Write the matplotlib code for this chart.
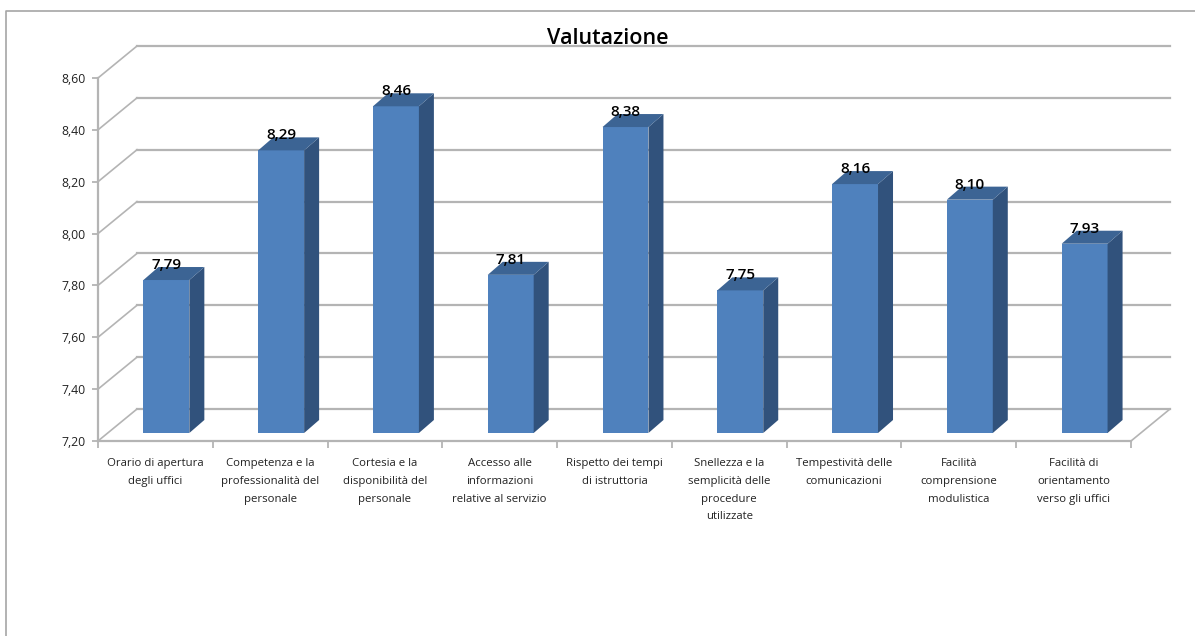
import matplotlib
matplotlib.use("Agg")
import matplotlib.pyplot as plt
from matplotlib.patches import Polygon
from matplotlib.transforms import Affine2D

categories = ["Orario di apertura\ndegli uffici",
              "Competenza e la\nprofessionalità del\npersonale",
              "Cortesia e la\ndisponibilità del\npersonale",
              "Accesso alle\ninformazioni\nrelative al servizio",
              "Rispetto dei tempi\ndi istruttoria",
              "Snellezza e la\nsemplicità delle\nprocedure\nutilizzate",
              "Tempestività delle\ncomunicazioni",
              "Facilità\ncomprensione\nmodulistica",
              "Facilità di\norientamento\nverso gli uffici"]
values = [7.79, 8.29, 8.46, 7.81, 8.38, 7.75, 8.16, 8.10, 7.93]
y_ticks = [7.2, 7.4, 7.6, 7.8, 8.0, 8.2, 8.4, 8.6]
title = "Valutazione"

W, H = 1195, 636
GRID = "#b4b4b4"
FRONT = "#4f81bd"
SIDE = "#31527c"
TOP = "#3c6494"
FONT = "Open Sans"
fig = plt.figure(figsize=(W / 100, H / 100), dpi=100)
ax = fig.add_axes([98 / W, 1 - 441 / H, 1033 / W, 363 / H])
ax.set_xlim(0, 9)
ax.set_ylim(7.2, 8.6)
ax.patch.set_alpha(0)
for s in ("top", "right"):
    ax.spines[s].set_visible(False)
for s in ("left", "bottom"):
    ax.spines[s].set_color(GRID)
    ax.spines[s].set_linewidth(1.6)

def shift(dx, dy):
    return ax.transData + Affine2D().translate(dx, dy)

WALL_DX, WALL_DY = 39, 32
BAR_DX, BAR_DY = 11, 8
DEPTH_DX, DEPTH_DY = 15, 13
BAR_W = 0.4

# back wall and side wall gridlines
for t in y_ticks:
    ax.plot([0, 9], [t, t], color=GRID, lw=1.6, clip_on=False,
            transform=shift(WALL_DX, WALL_DY), zorder=1)
    p0 = ax.transData.transform((0, t))
    ax.add_line(plt.Line2D([0, WALL_DX], [0, WALL_DY], color=GRID, lw=1.2, clip_on=False,
                           transform=Affine2D().translate(*p0), zorder=1))
# floor right edge
p1 = ax.transData.transform((9, 7.2))
ax.add_line(plt.Line2D([0, WALL_DX], [0, WALL_DY], color=GRID, lw=1.2, clip_on=False,
                       transform=Affine2D().translate(*p1), zorder=1))

# 3D bars
for i, v in enumerate(values):
    c = i + 0.5
    l, r = c - BAR_W / 2, c + BAR_W / 2
    tr = shift(BAR_DX, BAR_DY)
    ax.bar(c, v - 7.2, bottom=7.2, width=BAR_W, color=FRONT, transform=tr, zorder=3, clip_on=False)
    x0, y0 = ax.transData.transform((l, 7.2))
    x1, y1 = ax.transData.transform((r, v))
    x0 += BAR_DX; x1 += BAR_DX; y0 += BAR_DY; y1 += BAR_DY
    ident = Affine2D()
    ax.add_patch(Polygon([(x1, y0), (x1 + DEPTH_DX, y0 + DEPTH_DY), (x1 + DEPTH_DX, y1 + DEPTH_DY), (x1, y1)],
                         closed=True, fc=SIDE, ec="none", transform=ident, zorder=3, clip_on=False))
    ax.add_patch(Polygon([(x0, y1), (x0 + DEPTH_DX, y1 + DEPTH_DY), (x1 + DEPTH_DX, y1 + DEPTH_DY), (x1, y1)],
                         closed=True, fc=TOP, ec="none", transform=ident, zorder=3, clip_on=False))
    ax.text(c, v, f"{v:.2f}".replace(".", ","), transform=shift(BAR_DX, BAR_DY + 8), ha="center", va="bottom",
            fontsize=11, fontfamily=FONT, color="black", zorder=5, clip_on=False,
            fontweight="semibold")

ax.set_yticks(y_ticks)
ax.set_yticklabels([f"{t:.2f}".replace(".", ",") for t in y_ticks], fontsize=8.8,
                   fontfamily=FONT, color="#222222")
ax.set_xticks(range(10))
ax.set_xticklabels([])
ax.set_xticks([i + 0.5 for i in range(9)], minor=True)
ax.set_xticklabels(categories, minor=True, fontsize=8.2, fontfamily=FONT, color="#222222",
                   linespacing=1.83, va="top")
ax.tick_params(axis="x", which="minor", length=0, pad=12.5)
ax.tick_params(axis="x", which="major", length=5, color=GRID, width=1.3)
ax.tick_params(axis="y", length=4, color=GRID, width=1.3, pad=5)

fig.text(608 / W, 1 - 39 / H, title, ha="center", va="center", fontsize=15.5, fontfamily=FONT,
         fontweight="semibold", color="black", zorder=6)

# chart area frame
fig.add_artist(plt.Line2D([6.5 / W, 6.5 / W, 1], [0, 1 - 10.5 / H, 1 - 10.5 / H], color="#a6a6a6", lw=1.2))

fig.savefig("out.png", dpi=100)
